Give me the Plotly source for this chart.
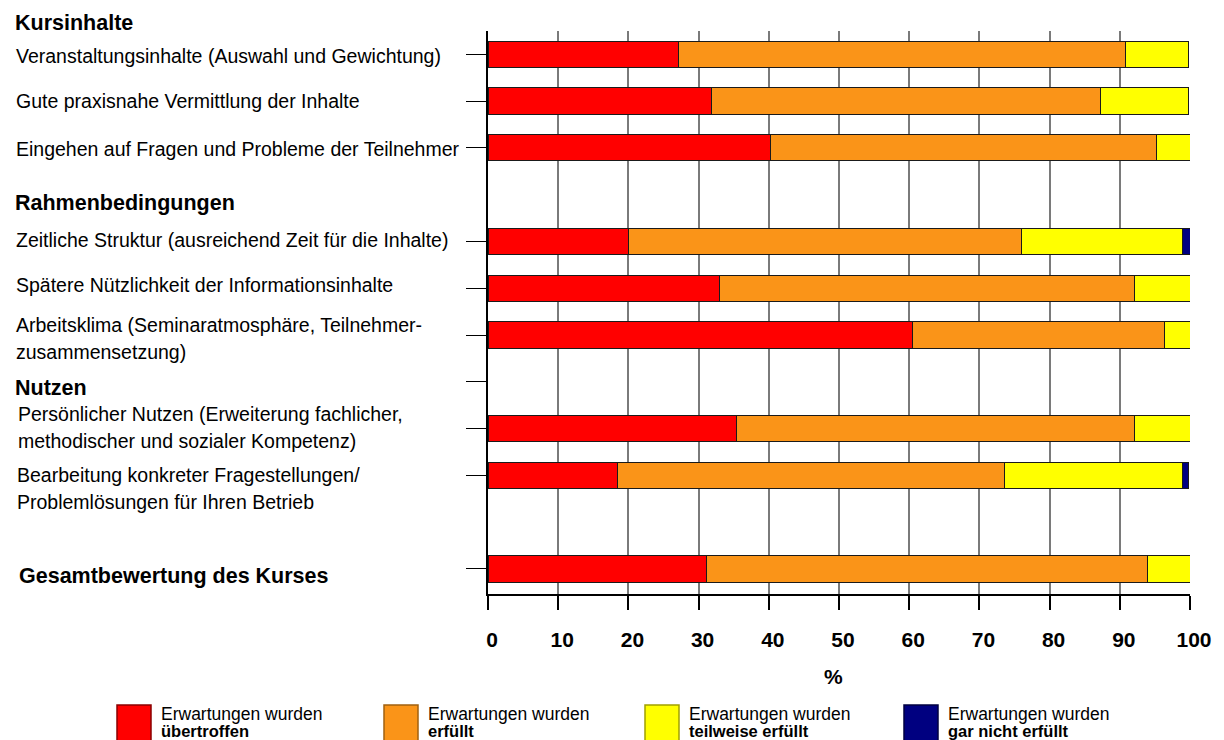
import plotly.graph_objects as go

# ---------------- data ----------------
categories = [
    "Veranstaltungsinhalte (Auswahl und Gewichtung)",
    "Gute praxisnahe Vermittlung der Inhalte",
    "Eingehen auf Fragen und Probleme der Teilnehmer",
    "Rahmenbedingungen",
    "Zeitliche Struktur (ausreichend Zeit für die Inhalte)",
    "Spätere Nützlichkeit der Informationsinhalte",
    "Arbeitsklima (Seminaratmosphäre, Teilnehmerzusammensetzung)",
    "Nutzen",
    "Persönlicher Nutzen (Erweiterung fachlicher, methodischer und sozialer Kompetenz)",
    "Bearbeitung konkreter Fragestellungen/Problemlösungen für Ihren Betrieb",
    "(Leerzeile)",
    "Gesamtbewertung des Kurses",
]
bar_rows = [categories[i] for i in (0, 1, 2, 4, 5, 6, 8, 9, 11)]
tick_rows = [categories[i] for i in (0, 1, 2, 4, 5, 6, 7, 8, 9, 11)]

uebertroffen = [27.1, 31.8, 40.3, 20.0, 33.0, 60.5, 35.4, 18.5, 31.1]
erfuellt = [63.7, 55.5, 54.9, 56.0, 59.1, 35.8, 56.7, 55.1, 62.9]
teilweise = [9.0, 12.5, 4.8, 23.0, 7.9, 3.7, 7.9, 25.4, 6.0]
gar_nicht = [None, None, None, 1.0, None, None, None, 0.8, None]

series_names = ["übertroffen", "erfüllt", "teilweise erfüllt", "gar nicht erfüllt"]
series_values = [uebertroffen, erfuellt, teilweise, gar_nicht]
series_colors = ["#FF0000", "#FA9418", "#FFFF00", "#000080"]
legend_border = ["#8B0000", "#A0600F", "#A0A000", "#000040"]

x_ticks = [0, 10, 20, 30, 40, 50, 60, 70, 80, 90, 100]

# label lines: (text, pixel-y, x-left, bold)
label_lines = [
    ("Kursinhalte", 23, 13, True),
    ("Veranstaltungsinhalte (Auswahl und Gewichtung)", 56, 14, False),
    ("Gute praxisnahe Vermittlung der Inhalte", 101, 14, False),
    ("Eingehen auf Fragen und Probleme der Teilnehmer", 149, 14, False),
    ("Rahmenbedingungen", 203, 13, True),
    ("Zeitliche Struktur (ausreichend Zeit für die Inhalte)", 240, 14, False),
    ("Spätere Nützlichkeit der Informationsinhalte", 285, 14, False),
    ("Arbeitsklima (Seminaratmosphäre, Teilnehmer-", 325, 14, False),
    ("zusammensetzung)", 352, 14, False),
    ("Nutzen", 388, 13, True),
    ("Persönlicher Nutzen (Erweiterung fachlicher,", 414, 16, False),
    ("methodischer und sozialer Kompetenz)", 441, 16, False),
    ("Bearbeitung konkreter Fragestellungen/", 475, 15, False),
    ("Problemlösungen für Ihren Betrieb", 502, 15, False),
    ("Gesamtbewertung des Kurses", 576, 17, True),
]

# ---------------- layout geometry ----------------
W, H = 1224, 740
L, R, T, B = 488, 34, 31, 146
PW, PH = W - L - R, H - T - B


def xp(px):
    return (px - L) / PW


def yp(py):
    return (H - B - py) / PH


FONT = "Liberation Sans, Arial, sans-serif"

fig = go.Figure()
for name, vals, col in zip(series_names, series_values, series_colors):
    fig.add_trace(go.Bar(
        y=bar_rows, x=vals, orientation="h", name=name,
        marker=dict(color=col, line=dict(color="#1a1a1a", width=1)),
        width=0.56, showlegend=False,
    ))

annotations = []
for text, py, px, bold in label_lines:
    annotations.append(dict(
        text=f"<b>{text}</b>" if bold else text,
        x=xp(px), y=yp(py), xref="paper", yref="paper",
        xanchor="left", yanchor="middle", showarrow=False,
        font=dict(size=21.5 if bold else 19.5, family=FONT, color="#000"),
    ))

# axis title "%"
annotations.append(dict(
    text="<b>%</b>", x=xp(833), y=yp(676), xref="paper", yref="paper",
    xanchor="center", yanchor="middle", showarrow=False,
    font=dict(size=21, family=FONT, color="#000"),
))

# custom legend
shapes = []
legend_x = [117, 384, 645, 904]
for i, (name, col, bcol) in enumerate(zip(series_names, series_colors, legend_border)):
    x0 = legend_x[i]
    shapes.append(dict(
        type="rect", xref="paper", yref="paper",
        x0=xp(x0), x1=xp(x0 + 34), y0=yp(705), y1=yp(745),
        fillcolor=col, line=dict(color=bcol, width=1.5), layer="above",
    ))
    annotations.append(dict(
        text="Erwartungen wurden", x=xp(x0 + 42), y=yp(714), xref="paper", yref="paper",
        xanchor="left", yanchor="middle", showarrow=False,
        font=dict(size=17.5, family=FONT, color="#000"),
    ))
    annotations.append(dict(
        text=f"<b>{name}</b>", x=xp(x0 + 42), y=yp(731), xref="paper", yref="paper",
        xanchor="left", yanchor="middle", showarrow=False,
        font=dict(size=16.5, family=FONT, color="#000"),
    ))

fig.update_layout(
    width=W, height=H,
    margin=dict(l=L, r=R, t=T, b=B, pad=0),
    barmode="stack",
    paper_bgcolor="white", plot_bgcolor="white",
    font=dict(family=FONT, color="#000"),
    annotations=annotations,
    shapes=shapes,
    xaxis=dict(
        range=[0, 100], tickvals=x_ticks, ticktext=[str(v) for v in x_ticks],
        showgrid=True, gridcolor="#7a7a7a", gridwidth=1.5,
        zeroline=False, showline=True, linecolor="#000", linewidth=2,
        ticks="outside", ticklen=14, tickcolor="#000", tickwidth=1.5,
        tickfont=dict(size=21, family=FONT, color="#000", weight="bold"),
        ticklabelstandoff=12, ticklabelshift=4,
        fixedrange=True,
    ),
    yaxis=dict(
        type="category", categoryorder="array", categoryarray=categories,
        range=[11.535, -0.498],
        tickvals=tick_rows, showticklabels=False,
        ticks="outside", ticklen=20, tickcolor="#000", tickwidth=1,
        showgrid=False, zeroline=False,
        showline=True, linecolor="#000", linewidth=1.5,
        fixedrange=True,
    ),
)

fig.write_html("out.html")
